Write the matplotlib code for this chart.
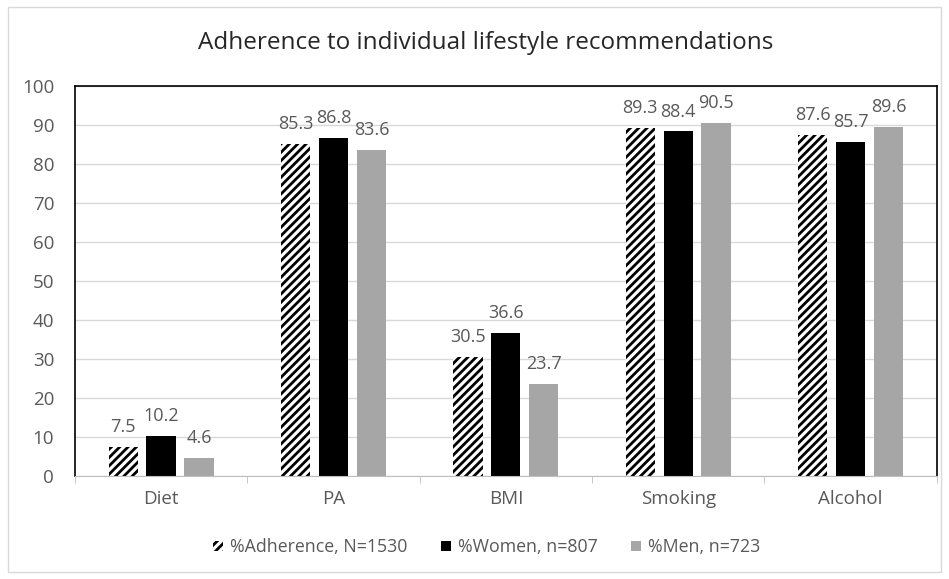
import matplotlib
matplotlib.use("Agg")
import matplotlib.pyplot as plt
import numpy as np
from matplotlib.patches import Rectangle

plt.rcParams['font.family'] = ['Open Sans', 'DejaVu Sans']
plt.rcParams['hatch.linewidth'] = 2.0

# data
categories = ['Diet', 'PA', 'BMI', 'Smoking', 'Alcohol']
adherence = [7.5, 85.3, 30.5, 89.3, 87.6]
women = [10.2, 86.8, 36.6, 88.4, 85.7]
men = [4.6, 83.6, 23.7, 90.5, 89.6]
series_names = ['%Adherence, N=1530', '%Women, n=807', '%Men, n=723']

txt = '#595959'
fig = plt.figure(figsize=(9.49, 5.79), dpi=100)
ax = fig.add_axes([0.079, 0.178, 0.908, 0.673])

x = np.arange(len(categories))
w = 0.17
step = 0.22
b1 = ax.bar(x - step, adherence, w, color='white', edgecolor='black', hatch='////', linewidth=0)
b2 = ax.bar(x, women, w, color='black', linewidth=0)
b3 = ax.bar(x + step, men, w, color='#a6a6a6', linewidth=0)

for bars, vals in [(b1, adherence), (b2, women), (b3, men)]:
    for r, v in zip(bars, vals):
        ax.text(r.get_x() + r.get_width() / 2, v + 2.8, f'{v:.1f}', ha='center', va='bottom',
                fontsize=13, color=txt)

ax.set_xlim(-0.5, len(categories) - 0.5)
ax.set_ylim(0, 100)
ax.set_yticks(np.arange(0, 101, 10))
ax.yaxis.grid(True, color='#d9d9d9', linewidth=1)
ax.set_axisbelow(True)
ax.set_xticks(x)
ax.set_xticklabels(categories)
ax.set_xticks(np.arange(-0.5, len(categories), 1), minor=True)
ax.tick_params(axis='x', which='major', length=0, pad=10, labelsize=13.5, labelcolor=txt)
ax.tick_params(axis='x', which='minor', length=5, color='#bfbfbf', direction='out')
ax.tick_params(axis='y', length=0, pad=15, labelsize=13.5, labelcolor=txt)
for s in ['left', 'top', 'right']:
    ax.spines[s].set_color('black')
    ax.spines[s].set_linewidth(1.2)
ax.spines['bottom'].set_color('#bfbfbf')

fig.text(0.512, 1 - 49 / 579, 'Adherence to individual lifestyle recommendations', ha='center',
         va='baseline', fontsize=17.5, color='#262626')

leg = fig.legend([b1, b2, b3], series_names, loc='center', bbox_to_anchor=(0.513, 0.055), ncol=3,
                 frameon=False, fontsize=12.8, handlelength=0.55, handleheight=0.55,
                 columnspacing=1.9, handletextpad=0.4)
for t in leg.get_texts():
    t.set_color(txt)

fig.patches.append(Rectangle((0.008, 0.012), 0.984, 0.976, transform=fig.transFigure,
                             fill=False, edgecolor='#d9d9d9', linewidth=1))

fig.savefig('out.png', dpi=100)
